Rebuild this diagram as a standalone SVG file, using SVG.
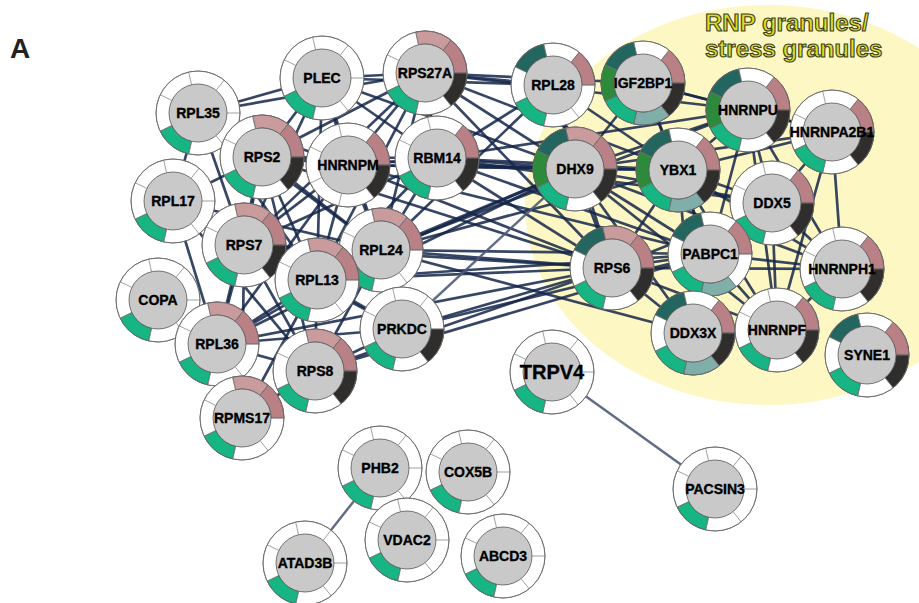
<svg xmlns="http://www.w3.org/2000/svg" xmlns:xlink="http://www.w3.org/1999/xlink" width="919" height="603" viewBox="0 0 919 603">
<style>
.e{stroke:#15264a;stroke-width:2.7;stroke-opacity:.85;fill:none}
.e2{stroke:#4f5b78;stroke-width:2.4;stroke-opacity:.9;fill:none}
.seg{stroke:#555;stroke-width:.6}
.g{fill:#16b583}.t{fill:#22665f}.lp{fill:#c99b9d}.p{fill:#b98185}.k{fill:#302e2c}.gt{fill:#80afa9}.dg{fill:#2e8a3b}
.lbl{font-family:"Liberation Sans",Arial,sans-serif;font-weight:bold;font-size:14px;fill:#000;stroke:#000;stroke-width:.35;text-anchor:middle}
.big{font-size:20px}
.title{font-family:"Liberation Sans",Arial,sans-serif;font-weight:bold;font-size:24px;fill:#dcdf1c;stroke:#3e3e2a;stroke-width:1.1}
</style>
<defs>
<circle id="base" r="42" fill="#fff" stroke="#6a6a6a" stroke-width=".8"/>
<path id="s1" d="M42,0A42,42 0 0 1 26.187,32.837L18.081,22.673A29,29 0 0 0 29,0Z"/>
<path id="s2" d="M26.187,32.837A42,42 0 0 1 -9.346,40.947L-6.453,28.273A29,29 0 0 0 18.081,22.673Z"/>
<path id="s3" d="M-9.346,40.947A42,42 0 0 1 -37.841,18.223L-26.128,12.583A29,29 0 0 0 -6.453,28.273Z"/>
<path id="s4" d="M-37.841,18.223A42,42 0 0 1 -37.841,-18.223L-26.128,-12.583A29,29 0 0 0 -26.128,12.583Z"/>
<path id="s5" d="M-37.841,-18.223A42,42 0 0 1 -9.346,-40.947L-6.453,-28.273A29,29 0 0 0 -26.128,-12.583Z"/>
<path id="s6" d="M-9.346,-40.947A42,42 0 0 1 26.187,-32.837L18.081,-22.673A29,29 0 0 0 -6.453,-28.273Z"/>
<path id="s7" d="M26.187,-32.837A42,42 0 0 1 42,0L29,0A29,29 0 0 0 18.081,-22.673Z"/>
<g id="top">
<path d="M29,0H42M18.081,22.673L26.187,32.837M-6.453,28.273L-9.346,40.947M-26.128,12.583L-37.841,18.223M-26.128,-12.583L-37.841,-18.223M-6.453,-28.273L-9.346,-40.947M18.081,-22.673L26.187,-32.837" stroke="#777" stroke-width=".7" fill="none"/>
<circle r="42" fill="none" stroke="#6a6a6a" stroke-width=".8"/>
<circle r="29" fill="#c9c9c9" stroke="#555" stroke-width=".8"/>
</g>
</defs>
<rect width="919" height="603" fill="#fff"/>
<ellipse cx="768" cy="205" rx="243" ry="200" fill="#fdf8c3"/>
<text x="10" y="58" font-family="Liberation Sans,Arial,sans-serif" font-weight="bold" font-size="28" fill="#222">A</text>
<text class="title" x="705" y="31">RNP granules/</text>
<text class="title" x="705" y="57">stress granules</text>
<g id="connectors">
<line class="e" x1="198" y1="113" x2="322" y2="78"/>
<line class="e" x1="198" y1="113" x2="262" y2="157"/>
<line class="e" x1="198" y1="113" x2="425" y2="73"/>
<line class="e" x1="198" y1="113" x2="348" y2="165"/>
<line class="e" x1="198" y1="113" x2="244" y2="245"/>
<line class="e" x1="198" y1="113" x2="173" y2="201"/>
<line class="e" x1="198" y1="113" x2="317" y2="280"/>
<line class="e" x1="198" y1="113" x2="381" y2="250"/>
<line class="e" x1="322" y1="78" x2="425" y2="73"/>
<line class="e" x1="322" y1="78" x2="262" y2="157"/>
<line class="e" x1="322" y1="78" x2="348" y2="165"/>
<line class="e" x1="322" y1="78" x2="437" y2="158"/>
<line class="e" x1="322" y1="78" x2="553" y2="85"/>
<line class="e" x1="322" y1="78" x2="575" y2="169"/>
<line class="e" x1="322" y1="78" x2="244" y2="245"/>
<line class="e" x1="322" y1="78" x2="381" y2="250"/>
<line class="e" x1="322" y1="78" x2="317" y2="280"/>
<line class="e" x1="425" y1="73" x2="553" y2="85"/>
<line class="e" x1="425" y1="73" x2="575" y2="169"/>
<line class="e" x1="425" y1="73" x2="643" y2="83"/>
<line class="e" x1="425" y1="73" x2="748" y2="110"/>
<line class="e" x1="425" y1="73" x2="437" y2="158"/>
<line class="e" x1="425" y1="73" x2="348" y2="165"/>
<line class="e" x1="425" y1="73" x2="262" y2="157"/>
<line class="e" x1="425" y1="73" x2="381" y2="250"/>
<line class="e" x1="425" y1="73" x2="317" y2="280"/>
<line class="e" x1="425" y1="73" x2="612" y2="268"/>
<line class="e" x1="425" y1="73" x2="678" y2="170"/>
<line class="e" x1="425" y1="73" x2="244" y2="245"/>
<line class="e" x1="262" y1="157" x2="348" y2="165"/>
<line class="e" x1="262" y1="157" x2="244" y2="245"/>
<line class="e" x1="262" y1="157" x2="173" y2="201"/>
<line class="e" x1="262" y1="157" x2="381" y2="250"/>
<line class="e" x1="262" y1="157" x2="317" y2="280"/>
<line class="e" x1="262" y1="157" x2="217" y2="344"/>
<line class="e" x1="262" y1="157" x2="315" y2="371"/>
<line class="e" x1="262" y1="157" x2="437" y2="158"/>
<line class="e" x1="262" y1="157" x2="575" y2="169"/>
<line class="e" x1="262" y1="157" x2="612" y2="268"/>
<line class="e" x1="348" y1="165" x2="437" y2="158"/>
<line class="e" x1="348" y1="165" x2="381" y2="250"/>
<line class="e" x1="348" y1="165" x2="244" y2="245"/>
<line class="e" x1="348" y1="165" x2="317" y2="280"/>
<line class="e" x1="348" y1="165" x2="575" y2="169"/>
<line class="e" x1="348" y1="165" x2="678" y2="170"/>
<line class="e" x1="348" y1="165" x2="612" y2="268"/>
<line class="e" x1="348" y1="165" x2="710" y2="254"/>
<line class="e" x1="348" y1="165" x2="217" y2="344"/>
<line class="e" x1="437" y1="158" x2="575" y2="169"/>
<line class="e" x1="437" y1="158" x2="553" y2="85"/>
<line class="e" x1="437" y1="158" x2="678" y2="170"/>
<line class="e" x1="437" y1="158" x2="612" y2="268"/>
<line class="e" x1="437" y1="158" x2="710" y2="254"/>
<line class="e" x1="437" y1="158" x2="748" y2="110"/>
<line class="e" x1="437" y1="158" x2="381" y2="250"/>
<line class="e" x1="437" y1="158" x2="317" y2="280"/>
<line class="e" x1="437" y1="158" x2="244" y2="245"/>
<line class="e" x1="437" y1="158" x2="772" y2="203"/>
<line class="e" x1="173" y1="201" x2="244" y2="245"/>
<line class="e" x1="173" y1="201" x2="217" y2="344"/>
<line class="e" x1="173" y1="201" x2="317" y2="280"/>
<line class="e" x1="173" y1="201" x2="381" y2="250"/>
<line class="e" x1="173" y1="201" x2="315" y2="371"/>
<line class="e" x1="244" y1="245" x2="381" y2="250"/>
<line class="e" x1="244" y1="245" x2="317" y2="280"/>
<line class="e" x1="244" y1="245" x2="217" y2="344"/>
<line class="e" x1="244" y1="245" x2="315" y2="371"/>
<line class="e" x1="244" y1="245" x2="612" y2="268"/>
<line class="e" x1="244" y1="245" x2="402" y2="329"/>
<line class="e" x1="381" y1="250" x2="317" y2="280"/>
<line class="e" x1="381" y1="250" x2="217" y2="344"/>
<line class="e" x1="381" y1="250" x2="315" y2="371"/>
<line class="e" x1="381" y1="250" x2="402" y2="329"/>
<line class="e" x1="381" y1="250" x2="612" y2="268"/>
<line class="e" x1="381" y1="250" x2="575" y2="169"/>
<line class="e" x1="381" y1="250" x2="710" y2="254"/>
<line class="e" x1="381" y1="250" x2="678" y2="170"/>
<line class="e" x1="381" y1="250" x2="553" y2="85"/>
<line class="e" x1="381" y1="250" x2="693" y2="333"/>
<line class="e" x1="381" y1="250" x2="748" y2="110"/>
<line class="e" x1="317" y1="280" x2="217" y2="344"/>
<line class="e" x1="317" y1="280" x2="315" y2="371"/>
<line class="e" x1="317" y1="280" x2="402" y2="329"/>
<line class="e" x1="317" y1="280" x2="612" y2="268"/>
<line class="e" x1="317" y1="280" x2="575" y2="169"/>
<line class="e" x1="317" y1="280" x2="710" y2="254"/>
<line class="e" x1="317" y1="280" x2="242" y2="418"/>
<line class="e" x1="217" y1="344" x2="315" y2="371"/>
<line class="e" x1="217" y1="344" x2="242" y2="418"/>
<line class="e" x1="217" y1="344" x2="402" y2="329"/>
<line class="e" x1="217" y1="344" x2="612" y2="268"/>
<line class="e" x1="217" y1="344" x2="575" y2="169"/>
<line class="e" x1="315" y1="371" x2="402" y2="329"/>
<line class="e" x1="315" y1="371" x2="612" y2="268"/>
<line class="e" x1="315" y1="371" x2="242" y2="418"/>
<line class="e" x1="315" y1="371" x2="710" y2="254"/>
<line class="e" x1="402" y1="329" x2="612" y2="268"/>
<line class="e2" x1="402" y1="329" x2="575" y2="169"/>
<line class="e" x1="402" y1="329" x2="710" y2="254"/>
<line class="e" x1="242" y1="418" x2="244" y2="245"/>
<line class="e" x1="553" y1="85" x2="575" y2="169"/>
<line class="e" x1="553" y1="85" x2="612" y2="268"/>
<line class="e" x1="553" y1="85" x2="678" y2="170"/>
<line class="e" x1="575" y1="169" x2="643" y2="83"/>
<line class="e" x1="575" y1="169" x2="678" y2="170"/>
<line class="e" x1="575" y1="169" x2="748" y2="110"/>
<line class="e" x1="575" y1="169" x2="612" y2="268"/>
<line class="e" x1="575" y1="169" x2="710" y2="254"/>
<line class="e" x1="575" y1="169" x2="772" y2="203"/>
<line class="e" x1="575" y1="169" x2="842" y2="269"/>
<line class="e" x1="575" y1="169" x2="693" y2="333"/>
<line class="e" x1="575" y1="169" x2="832" y2="132"/>
<line class="e" x1="575" y1="169" x2="777" y2="330"/>
<line class="e" x1="643" y1="83" x2="678" y2="170"/>
<line class="e" x1="643" y1="83" x2="748" y2="110"/>
<line class="e" x1="643" y1="83" x2="710" y2="254"/>
<line class="e" x1="643" y1="83" x2="832" y2="132"/>
<line class="e" x1="678" y1="170" x2="748" y2="110"/>
<line class="e" x1="678" y1="170" x2="710" y2="254"/>
<line class="e" x1="678" y1="170" x2="772" y2="203"/>
<line class="e" x1="678" y1="170" x2="612" y2="268"/>
<line class="e" x1="678" y1="170" x2="842" y2="269"/>
<line class="e" x1="678" y1="170" x2="777" y2="330"/>
<line class="e" x1="678" y1="170" x2="693" y2="333"/>
<line class="e" x1="678" y1="170" x2="832" y2="132"/>
<line class="e" x1="748" y1="110" x2="832" y2="132"/>
<line class="e" x1="748" y1="110" x2="772" y2="203"/>
<line class="e" x1="748" y1="110" x2="842" y2="269"/>
<line class="e" x1="748" y1="110" x2="710" y2="254"/>
<line class="e" x1="748" y1="110" x2="777" y2="330"/>
<line class="e" x1="832" y1="132" x2="772" y2="203"/>
<line class="e" x1="832" y1="132" x2="842" y2="269"/>
<line class="e" x1="832" y1="132" x2="777" y2="330"/>
<line class="e" x1="772" y1="203" x2="842" y2="269"/>
<line class="e" x1="772" y1="203" x2="777" y2="330"/>
<line class="e" x1="772" y1="203" x2="710" y2="254"/>
<line class="e" x1="772" y1="203" x2="612" y2="268"/>
<line class="e" x1="710" y1="254" x2="612" y2="268"/>
<line class="e" x1="710" y1="254" x2="693" y2="333"/>
<line class="e" x1="710" y1="254" x2="777" y2="330"/>
<line class="e" x1="710" y1="254" x2="842" y2="269"/>
<line class="e" x1="612" y1="268" x2="693" y2="333"/>
<line class="e" x1="612" y1="268" x2="777" y2="330"/>
<line class="e" x1="612" y1="268" x2="842" y2="269"/>
<line class="e" x1="693" y1="333" x2="777" y2="330"/>
<line class="e" x1="842" y1="269" x2="777" y2="330"/>
<line class="e2" x1="552" y1="372" x2="715" y2="489"/>
<line class="e2" x1="380" y1="468" x2="305" y2="563"/>
</g>
<g id="n-PLEC" transform="translate(322,78)"><use href="#base"/><use href="#s3" class="seg g"/><use href="#top"/><text class="lbl" y="5">PLEC</text></g>
<g id="n-RPS27A" transform="translate(425,73)"><use href="#base"/><use href="#s6" class="seg lp"/><use href="#s7" class="seg p"/><use href="#s1" class="seg k"/><use href="#s3" class="seg g"/><use href="#top"/><text class="lbl" y="5">RPS27A</text></g>
<g id="n-RPL35" transform="translate(198,113)"><use href="#base"/><use href="#s3" class="seg g"/><use href="#top"/><text class="lbl" y="5">RPL35</text></g>
<g id="n-RPL17" transform="translate(173,201)"><use href="#base"/><use href="#s3" class="seg g"/><use href="#top"/><text class="lbl" y="5">RPL17</text></g>
<g id="n-RPS2" transform="translate(262,157)"><use href="#base"/><use href="#s6" class="seg lp"/><use href="#s7" class="seg p"/><use href="#s1" class="seg k"/><use href="#s3" class="seg g"/><use href="#top"/><text class="lbl" y="5">RPS2</text></g>
<g id="n-HNRNPM" transform="translate(348,165)"><use href="#base"/><use href="#s7" class="seg p"/><use href="#s1" class="seg k"/><use href="#top"/><text class="lbl" y="5">HNRNPM</text></g>
<g id="n-RBM14" transform="translate(437,158)"><use href="#base"/><use href="#s7" class="seg p"/><use href="#s1" class="seg k"/><use href="#s3" class="seg g"/><use href="#top"/><text class="lbl" y="5">RBM14</text></g>
<g id="n-COPA" transform="translate(158,300)"><use href="#base"/><use href="#s3" class="seg g"/><use href="#top"/><text class="lbl" y="5">COPA</text></g>
<g id="n-RPS7" transform="translate(244,245)"><use href="#base"/><use href="#s6" class="seg lp"/><use href="#s7" class="seg p"/><use href="#s1" class="seg k"/><use href="#s3" class="seg g"/><use href="#top"/><text class="lbl" y="5">RPS7</text></g>
<g id="n-RPL24" transform="translate(381,250)"><use href="#base"/><use href="#s6" class="seg lp"/><use href="#s7" class="seg p"/><use href="#s3" class="seg g"/><use href="#top"/><text class="lbl" y="5">RPL24</text></g>
<g id="n-RPL13" transform="translate(317,280)"><use href="#base"/><use href="#s6" class="seg lp"/><use href="#s7" class="seg p"/><use href="#s3" class="seg g"/><use href="#top"/><text class="lbl" y="5">RPL13</text></g>
<g id="n-PRKDC" transform="translate(402,329)"><use href="#base"/><use href="#s1" class="seg k"/><use href="#s3" class="seg g"/><use href="#top"/><text class="lbl" y="5">PRKDC</text></g>
<g id="n-RPL36" transform="translate(217,344)"><use href="#base"/><use href="#s6" class="seg lp"/><use href="#s7" class="seg p"/><use href="#s3" class="seg g"/><use href="#top"/><text class="lbl" y="5">RPL36</text></g>
<g id="n-RPS8" transform="translate(315,371)"><use href="#base"/><use href="#s6" class="seg lp"/><use href="#s7" class="seg p"/><use href="#s1" class="seg k"/><use href="#s3" class="seg g"/><use href="#top"/><text class="lbl" y="5">RPS8</text></g>
<g id="n-RPMS17" transform="translate(242,418)"><use href="#base"/><use href="#s6" class="seg lp"/><use href="#s7" class="seg p"/><use href="#s3" class="seg g"/><use href="#top"/><text class="lbl" y="5">RPMS17</text></g>
<g id="n-RPL28" transform="translate(553,85)"><use href="#base"/><use href="#s5" class="seg t"/><use href="#s7" class="seg p"/><use href="#s3" class="seg g"/><use href="#top"/><text class="lbl" y="5">RPL28</text></g>
<g id="n-IGF2BP1" transform="translate(643,83)"><use href="#base"/><use href="#s5" class="seg t"/><use href="#s7" class="seg p"/><use href="#s1" class="seg k"/><use href="#s2" class="seg gt"/><use href="#s3" class="seg g"/><use href="#s4" class="seg dg"/><use href="#top"/><text class="lbl" y="5">IGF2BP1</text></g>
<g id="n-HNRNPU" transform="translate(748,110)"><use href="#base"/><use href="#s5" class="seg t"/><use href="#s7" class="seg p"/><use href="#s1" class="seg k"/><use href="#s3" class="seg g"/><use href="#s4" class="seg dg"/><use href="#top"/><text class="lbl" y="5">HNRNPU</text></g>
<g id="n-HNRNPA2B1" transform="translate(832,132)"><use href="#base"/><use href="#s7" class="seg p"/><use href="#s1" class="seg k"/><use href="#s3" class="seg g"/><use href="#top"/><text class="lbl" y="5">HNRNPA2B1</text></g>
<g id="n-DHX9" transform="translate(575,169)"><use href="#base"/><use href="#s5" class="seg t"/><use href="#s6" class="seg lp"/><use href="#s7" class="seg p"/><use href="#s1" class="seg k"/><use href="#s3" class="seg g"/><use href="#s4" class="seg dg"/><use href="#top"/><text class="lbl" y="5">DHX9</text></g>
<g id="n-YBX1" transform="translate(678,170)"><use href="#base"/><use href="#s5" class="seg t"/><use href="#s7" class="seg p"/><use href="#s1" class="seg k"/><use href="#s2" class="seg gt"/><use href="#s3" class="seg g"/><use href="#s4" class="seg dg"/><use href="#top"/><text class="lbl" y="5">YBX1</text></g>
<g id="n-DDX5" transform="translate(772,203)"><use href="#base"/><use href="#s7" class="seg p"/><use href="#s1" class="seg k"/><use href="#s3" class="seg g"/><use href="#top"/><text class="lbl" y="5">DDX5</text></g>
<g id="n-RPS6" transform="translate(612,268)"><use href="#base"/><use href="#s5" class="seg t"/><use href="#s6" class="seg lp"/><use href="#s7" class="seg p"/><use href="#s1" class="seg k"/><use href="#s3" class="seg g"/><use href="#top"/><text class="lbl" y="5">RPS6</text></g>
<g id="n-PABPC1" transform="translate(710,254)"><use href="#base"/><use href="#s5" class="seg t"/><use href="#s7" class="seg p"/><use href="#s2" class="seg gt"/><use href="#s3" class="seg g"/><use href="#top"/><text class="lbl" y="5">PABPC1</text></g>
<g id="n-HNRNPH1" transform="translate(842,269)"><use href="#base"/><use href="#s7" class="seg p"/><use href="#s1" class="seg k"/><use href="#s3" class="seg g"/><use href="#top"/><text class="lbl" y="5">HNRNPH1</text></g>
<g id="n-DDX3X" transform="translate(693,333)"><use href="#base"/><use href="#s5" class="seg t"/><use href="#s7" class="seg p"/><use href="#s1" class="seg k"/><use href="#s2" class="seg gt"/><use href="#s3" class="seg g"/><use href="#top"/><text class="lbl" y="5">DDX3X</text></g>
<g id="n-HNRNPF" transform="translate(777,330)"><use href="#base"/><use href="#s7" class="seg p"/><use href="#s1" class="seg k"/><use href="#s3" class="seg g"/><use href="#top"/><text class="lbl" y="5">HNRNPF</text></g>
<g id="n-SYNE1" transform="translate(867,355)"><use href="#base"/><use href="#s5" class="seg t"/><use href="#s7" class="seg p"/><use href="#s1" class="seg k"/><use href="#s3" class="seg g"/><use href="#top"/><text class="lbl" y="5">SYNE1</text></g>
<g id="n-TRPV4" transform="translate(552,372)"><use href="#base"/><use href="#s3" class="seg g"/><use href="#top"/><text class="lbl big" y="7">TRPV4</text></g>
<g id="n-PHB2" transform="translate(380,468)"><use href="#base"/><use href="#s3" class="seg g"/><use href="#top"/><text class="lbl" y="5">PHB2</text></g>
<g id="n-COX5B" transform="translate(468,472)"><use href="#base"/><use href="#s3" class="seg g"/><use href="#top"/><text class="lbl" y="5">COX5B</text></g>
<g id="n-VDAC2" transform="translate(407,540)"><use href="#base"/><use href="#s3" class="seg g"/><use href="#top"/><text class="lbl" y="5">VDAC2</text></g>
<g id="n-ABCD3" transform="translate(503,556)"><use href="#base"/><use href="#s3" class="seg g"/><use href="#top"/><text class="lbl" y="5">ABCD3</text></g>
<g id="n-ATAD3B" transform="translate(305,563)"><use href="#base"/><use href="#s3" class="seg g"/><use href="#top"/><text class="lbl" y="5">ATAD3B</text></g>
<g id="n-PACSIN3" transform="translate(715,489)"><use href="#base"/><use href="#s3" class="seg g"/><use href="#top"/><text class="lbl" y="5">PACSIN3</text></g>
</svg>
